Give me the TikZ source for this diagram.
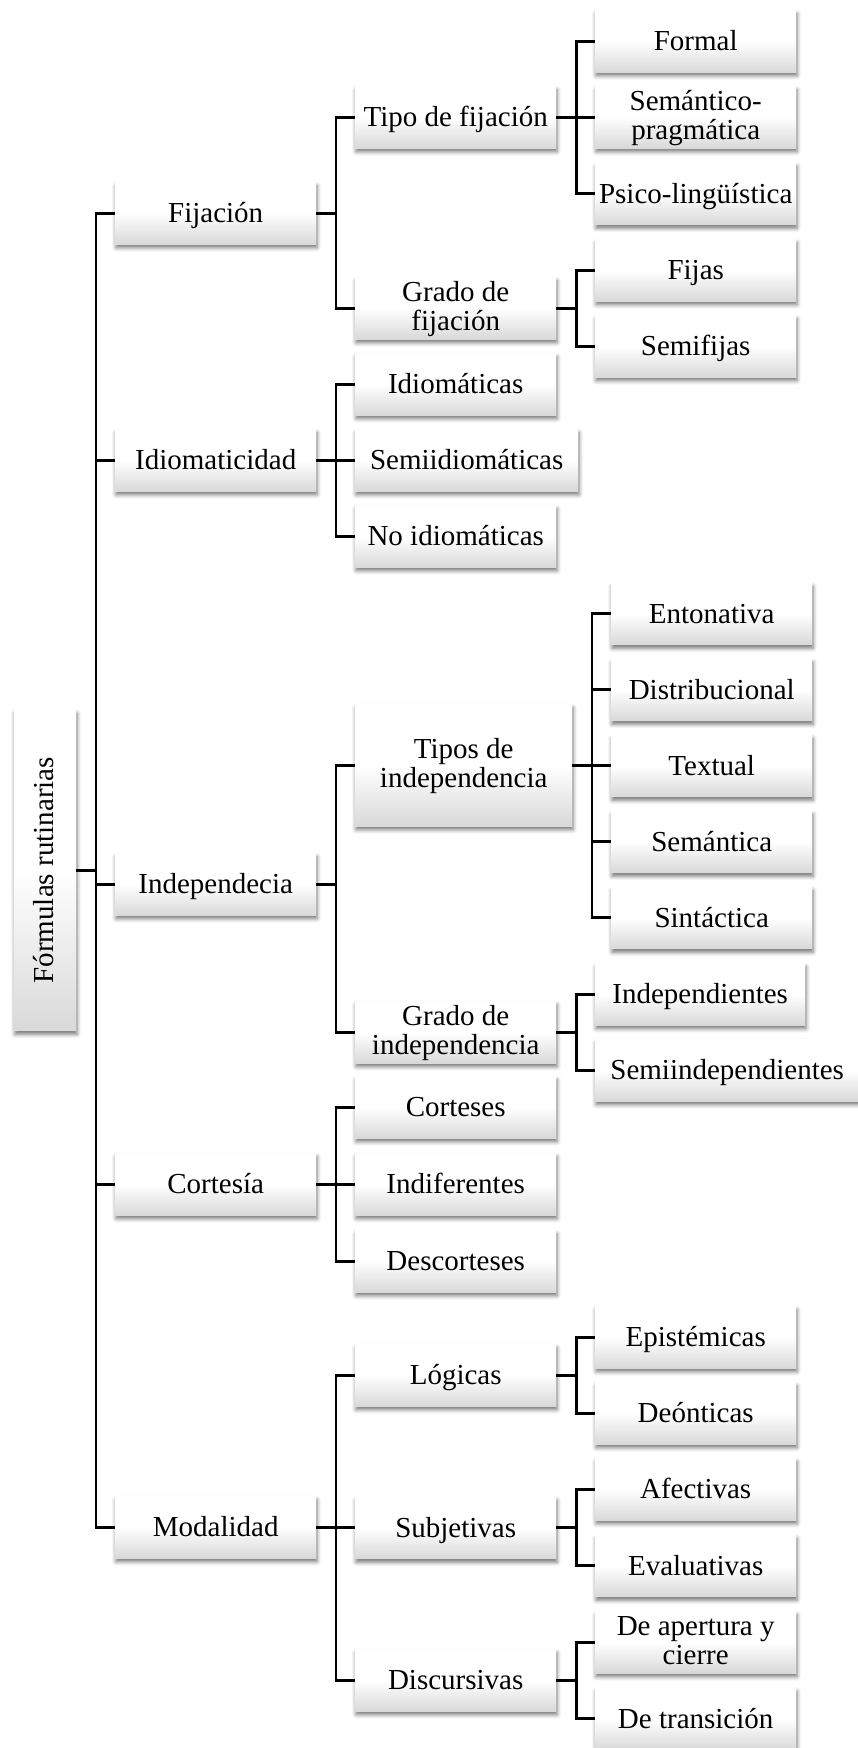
\documentclass[tikz,border=0pt]{standalone}
\usepackage{fontspec}
\setmainfont{Liberation Serif}
\usetikzlibrary{shadows.blur}

\tikzset{
  boxbase/.style={rectangle, anchor=north west, inner sep=0pt,
    minimum width=201pt, minimum height=62pt,
    top color=white, bottom color=black!15, middle color=white,
    blur shadow={shadow xshift=0.8pt, shadow yshift=-3.5pt,
      shadow blur radius=4pt, shadow opacity=55},
    align=center, font=\fontsize{29pt}{29pt}\selectfont},
  box/.style={boxbase, text height=19pt, text depth=0pt},
  twoline/.style={boxbase, text height=49pt, text depth=4pt},
  link/.style={draw=black, line width=2.7pt, line join=miter}
}

\begin{document}
\begin{tikzpicture}[x=1pt, y=-1pt]
\useasboundingbox (0,0) rectangle (857,1748);

% root
\node[boxbase, minimum width=62pt, minimum height=321pt] (root) at (14,709.5)
  {\rotatebox{90}{\raisebox{0pt}[20.5pt][4pt]{Fórmulas rutinarias}}};

% first level
\node[box] (fij) at (115,182) {Fijación};
\node[box] (idi) at (115,429) {Idiomaticidad};
\node[box] (ind) at (115,853) {Independecia};
\node[box] (cor) at (115,1153) {Cortesía};
\node[box] (mod) at (115,1496) {Modalidad};

% second level
\node[box] (tipofij) at (355,86) {Tipo de fijación};
\node[twoline] (gradofij) at (355,277) {Grado de\\fijación};
\node[box] (idiom) at (355,353) {Idiomáticas};
\node[box, minimum width=223pt] (semiid) at (355,429) {Semiidiomáticas};
\node[box] (noid) at (355,505) {No idiomáticas};
\node[twoline, minimum width=217pt, minimum height=122pt] (tiposind) at (355,704) {Tipos de\\independencia};
\node[twoline] (gradoind) at (355,1001) {Grado de\\independencia};
\node[box] (cortes) at (355,1076) {Corteses};
\node[box] (indif) at (355,1153) {Indiferentes};
\node[box] (descort) at (355,1230) {Descorteses};
\node[box] (logic) at (355,1344) {Lógicas};
\node[box] (subj) at (355,1496.5) {Subjetivas};
\node[box] (disc) at (355,1649) {Discursivas};

% third level
\node[box] (formal) at (595,10) {Formal};
\node[twoline] (semprag) at (595,86) {Semántico-\\pragmática};
\node[box] (psico) at (595,162.5) {Psico-lingüística};
\node[box] (fijas) at (595,239) {Fijas};
\node[box] (semifijas) at (595,315) {Semifijas};
\node[box] (enton) at (611,582.5) {Entonativa};
\node[box] (distrib) at (611,658.5) {Distribucional};
\node[box] (textual) at (611,734.5) {Textual};
\node[box] (seman) at (611,810.5) {Semántica};
\node[box] (sintac) at (611,886.5) {Sintáctica};
\node[box, minimum width=210pt] (indep) at (595,963) {Independientes};
\node[box, minimum width=264pt] (semiind) at (595,1039) {Semiindependientes};
\node[box] (epist) at (595,1306) {Epistémicas};
\node[box] (deont) at (595,1382) {Deónticas};
\node[box] (afect) at (595,1458) {Afectivas};
\node[box] (evalu) at (595,1534.5) {Evaluativas};
\node[twoline] (apert) at (595,1611) {De apertura y\\cierre};
\node[box] (trans) at (595,1687.5) {De transición};

% connectors: root to first level
\foreach \c in {fij,idi,ind,cor,mod}
  \draw[link] (root.east) -- ++(19.7,0) |- (\c.west);

% first level to second level
\foreach \p/\c in {fij/tipofij, fij/gradofij, idi/idiom, idi/semiid, idi/noid,
                   ind/tiposind, ind/gradoind, cor/cortes, cor/indif, cor/descort,
                   mod/logic, mod/subj, mod/disc}
  \draw[link] (\p.east) -- ++(19.5,0) |- (\c.west);

% second level to third level
\foreach \p/\c in {tipofij/formal, tipofij/semprag, tipofij/psico,
                   gradofij/fijas, gradofij/semifijas,
                   gradoind/indep, gradoind/semiind,
                   logic/epist, logic/deont, subj/afect, subj/evalu,
                   disc/apert, disc/trans}
  \draw[link] (\p.east) -- ++(20,0) |- (\c.west);
\foreach \c in {enton,distrib,textual,seman,sintac}
  \draw[link] (tiposind.east) -- ++(19.6,0) |- (\c.west);
\end{tikzpicture}
\end{document}
